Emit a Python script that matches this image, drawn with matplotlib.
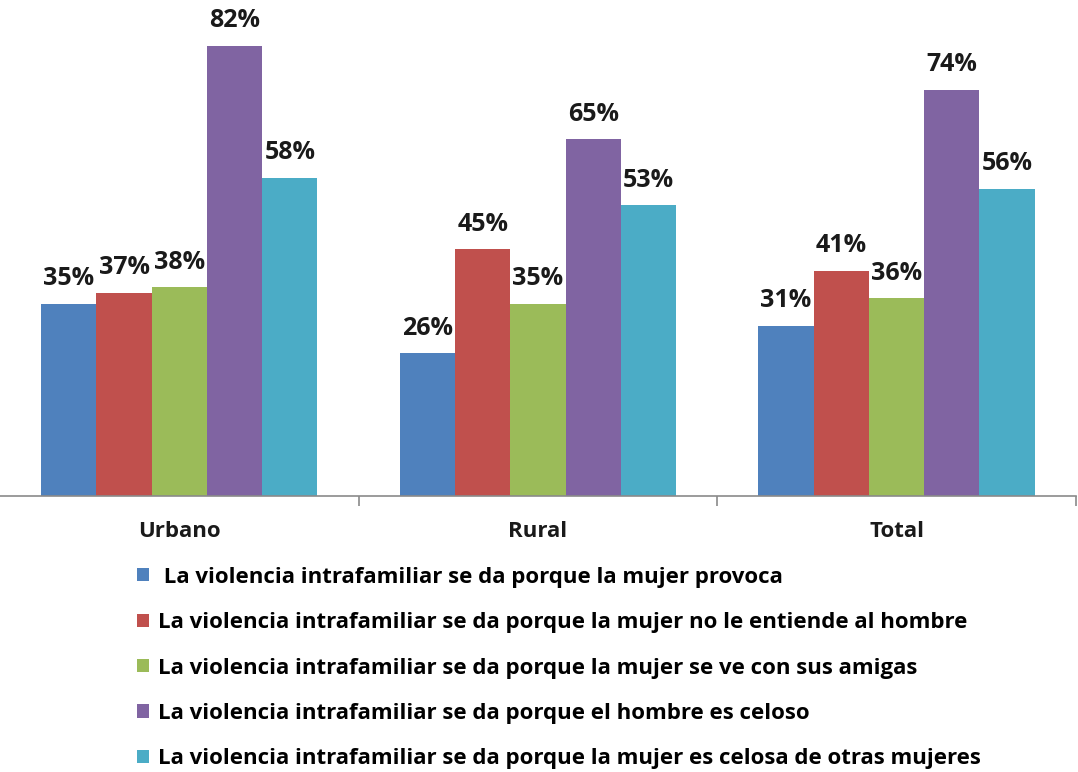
import matplotlib
matplotlib.use("Agg")
import matplotlib.pyplot as plt
import numpy as np
from matplotlib.patches import Patch

plt.rcParams["font.family"] = ["Open Sans", "DejaVu Sans"]

categories = ["Urbano", "Rural", "Total"]
series_labels = [
    " La violencia intrafamiliar se da porque la mujer provoca",
    "La violencia intrafamiliar se da porque la mujer no le entiende al hombre",
    "La violencia intrafamiliar se da porque la mujer se ve con sus amigas",
    "La violencia intrafamiliar se da porque el hombre es celoso",
    "La violencia intrafamiliar se da porque la mujer es celosa de otras mujeres",
]
provoca = [35, 26, 31]
no_entiende = [37, 45, 41]
amigas = [38, 35, 36]
hombre_celoso = [82, 65, 74]
mujer_celosa = [58, 53, 56]
series_values = [provoca, no_entiende, amigas, hombre_celoso, mujer_celosa]
colors = ["#4F81BD", "#C0504D", "#9BBB59", "#8064A2", "#4BACC6"]

fig = plt.figure(figsize=(10.78, 7.72), dpi=100)
ax = fig.add_axes([0.0, 0.3575, 0.998, 0.6399])

x = np.arange(len(categories))
width = 0.154
offsets = (np.arange(5) - 2) * width
for vals, off, col in zip(series_values, offsets, colors):
    bars = ax.bar(x + off, vals, width, color=col, linewidth=0)
    ax.bar_label(bars, labels=[f"{v}%" for v in vals], padding=9,
                 fontsize=18, fontweight="bold", color="#1a1a1a")

ax.set_xlim(-0.5, 2.5)
ax.set_ylim(0, 90)
for side in ["top", "right", "left"]:
    ax.spines[side].set_visible(False)
ax.spines["bottom"].set_color("#8a8a8a")
ax.spines["bottom"].set_linewidth(1.2)
ax.set_yticks([])
ax.set_xticks(x)
ax.set_xticklabels(categories, fontsize=16, fontweight="bold", color="#1a1a1a")
ax.tick_params(axis="x", which="major", length=0, pad=18)
ax.set_xticks([0.5, 1.5, 2.5], minor=True)
ax.tick_params(axis="x", which="minor", length=7, width=1.2, color="#8a8a8a")

handles = [Patch(facecolor=c, edgecolor="none") for c in colors]
fig.legend(handles, series_labels, loc="upper left",
           bbox_to_anchor=(0.127, 0.266), frameon=False,
           prop={"size": 16, "weight": "bold"},
           handlelength=0.55, handleheight=0.55, handletextpad=0.42,
           labelspacing=1.1, borderaxespad=0, borderpad=0)

fig.savefig("out.png", dpi=100)
